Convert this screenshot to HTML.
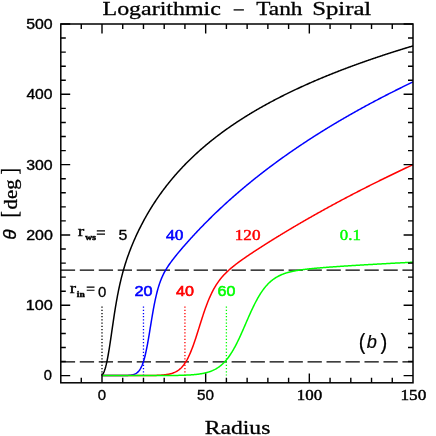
<!DOCTYPE html>
<html><head><meta charset="utf-8"><style>
html,body{margin:0;padding:0;background:#fff;}
body{width:436px;height:436px;overflow:hidden;}
svg{display:block;}
</style></head><body>
<svg width="436" height="436" viewBox="0 0 436 436" style="will-change:transform">
<rect width="436" height="436" fill="#fff"/>
<defs><clipPath id="c"><rect x="60.80" y="24.00" width="352.20" height="358.80"/></clipPath></defs>
<!-- dashed refs -->
<path d="M60.80,270.13H413.00M60.80,361.90H413.00" stroke="#000" stroke-width="1.4" stroke-dasharray="14.3,4.68" fill="none"/>
<!-- dotted verticals -->
<path d="M102.00,306.40V375.62" stroke="#000" stroke-width="1.3" stroke-dasharray="1.25,1.99" fill="none"/>
<path d="M143.47,306.40V375.62" stroke="#00f" stroke-width="1.3" stroke-dasharray="1.25,1.99" fill="none"/>
<path d="M184.93,306.40V375.62" stroke="#f00" stroke-width="1.3" stroke-dasharray="1.25,1.99" fill="none"/>
<path d="M226.40,306.40V375.62" stroke="#0f0" stroke-width="1.3" stroke-dasharray="1.25,1.99" fill="none"/>
<g clip-path="url(#c)">
<path d="M102.00,375.62 L102.52,374.87 L103.04,373.98 L103.56,372.94 L104.07,371.72 L104.59,370.32 L105.11,368.72 L105.63,366.92 L106.15,364.90 L106.67,362.67 L107.18,360.23 L107.70,357.58 L108.22,354.74 L108.74,351.73 L109.26,348.56 L109.78,345.25 L110.29,341.83 L110.81,338.33 L111.33,334.78 L111.85,331.21 L112.37,327.63 L112.89,324.07 L113.40,320.56 L113.92,317.10 L114.44,313.72 L114.96,310.43 L115.48,307.24 L116.00,304.14 L116.51,301.15 L117.03,298.26 L117.55,295.48 L118.07,292.80 L118.59,290.22 L119.11,287.73 L119.62,285.34 L120.14,283.04 L120.66,280.82 L121.18,278.68 L121.70,276.61 L122.22,274.61 L122.73,272.68 L123.25,270.81 L123.77,268.99 L124.29,267.22 L124.81,265.51 L125.33,263.84 L125.84,262.21 L126.36,260.62 L126.88,259.08 L127.40,257.56 L127.92,256.08 L128.44,254.63 L128.95,253.21 L129.47,251.82 L129.99,250.45 L130.51,249.11 L131.03,247.79 L131.54,246.49 L132.06,245.21 L132.58,243.96 L133.10,242.72 L133.62,241.50 L134.14,240.30 L134.66,239.12 L135.17,237.95 L135.69,236.80 L136.21,235.66 L136.73,234.54 L137.25,233.43 L137.76,232.34 L138.28,231.26 L138.80,230.19 L139.32,229.14 L139.84,228.09 L140.36,227.06 L140.88,226.04 L141.39,225.03 L141.91,224.03 L142.43,223.05 L142.95,222.07 L143.47,221.10 L143.99,220.14 L144.50,219.20 L145.02,218.26 L145.54,217.33 L146.06,216.41 L146.58,215.50 L147.09,214.60 L147.61,213.70 L148.13,212.82 L148.65,211.94 L149.17,211.07 L149.69,210.21 L150.20,209.35 L150.72,208.51 L151.24,207.67 L151.76,206.84 L152.28,206.01 L152.80,205.19 L153.31,204.38 L153.83,203.58 L154.35,202.78 L154.87,201.99 L155.39,201.21 L155.91,200.43 L156.43,199.66 L156.94,198.90 L157.46,198.14 L157.98,197.38 L158.50,196.64 L159.02,195.89 L159.53,195.16 L160.05,194.43 L160.57,193.70 L161.09,192.98 L161.61,192.27 L162.13,191.56 L162.64,190.86 L163.16,190.16 L163.68,189.47 L164.20,188.78 L164.72,188.10 L165.24,187.42 L165.75,186.74 L166.27,186.07 L166.79,185.41 L167.31,184.75 L167.83,184.09 L168.35,183.44 L168.87,182.80 L169.38,182.15 L169.90,181.52 L170.42,180.88 L170.94,180.25 L171.46,179.63 L171.97,179.01 L172.49,178.39 L173.01,177.77 L173.53,177.17 L174.05,176.56 L174.57,175.96 L175.08,175.36 L175.60,174.76 L176.12,174.17 L176.64,173.59 L177.16,173.00 L177.68,172.42 L178.19,171.85 L178.71,171.27 L179.23,170.70 L179.75,170.14 L180.27,169.57 L180.79,169.01 L181.31,168.46 L181.82,167.90 L182.34,167.35 L182.86,166.81 L183.38,166.26 L183.90,165.72 L184.41,165.18 L184.93,164.65 L185.45,164.12 L185.97,163.59 L186.49,163.06 L187.01,162.54 L187.52,162.02 L188.04,161.50 L188.56,160.98 L189.08,160.47 L189.60,159.96 L190.12,159.46 L190.63,158.95 L191.15,158.45 L191.67,157.95 L192.19,157.46 L192.71,156.96 L193.23,156.47 L193.75,155.98 L194.26,155.50 L194.78,155.01 L195.30,154.53 L195.82,154.05 L196.34,153.58 L196.85,153.10 L197.37,152.63 L197.89,152.16 L198.41,151.69 L198.93,151.23 L199.45,150.77 L199.96,150.31 L200.48,149.85 L201.00,149.39 L201.52,148.94 L202.04,148.48 L202.56,148.04 L203.07,147.59 L203.59,147.14 L204.11,146.70 L204.63,146.26 L205.15,145.82 L205.67,145.38 L206.19,144.94 L206.70,144.51 L207.22,144.08 L207.74,143.65 L208.26,143.22 L208.78,142.80 L209.30,142.37 L209.81,141.95 L210.33,141.53 L210.85,141.11 L211.37,140.70 L211.89,140.28 L212.41,139.87 L212.92,139.46 L213.44,139.05 L213.96,138.64 L214.48,138.23 L215.00,137.83 L215.51,137.43 L216.03,137.03 L216.55,136.63 L217.07,136.23 L217.59,135.83 L218.11,135.44 L218.62,135.05 L219.14,134.65 L219.66,134.27 L220.18,133.88 L220.70,133.49 L221.22,133.11 L221.74,132.72 L222.25,132.34 L222.77,131.96 L223.29,131.58 L223.81,131.20 L224.33,130.83 L224.84,130.45 L225.36,130.08 L225.88,129.71 L226.40,129.34 L226.92,128.97 L227.44,128.60 L227.95,128.24 L228.47,127.87 L228.99,127.51 L229.51,127.15 L230.03,126.79 L230.55,126.43 L231.06,126.07 L231.58,125.72 L232.10,125.36 L232.62,125.01 L233.14,124.66 L233.66,124.30 L234.17,123.95 L234.69,123.61 L235.21,123.26 L235.73,122.91 L236.25,122.57 L236.77,122.22 L237.28,121.88 L237.80,121.54 L238.32,121.20 L238.84,120.86 L239.36,120.52 L239.88,120.19 L240.39,119.85 L240.91,119.52 L241.43,119.19 L241.95,118.85 L242.47,118.52 L242.99,118.20 L243.50,117.87 L244.02,117.54 L244.54,117.21 L245.06,116.89 L245.58,116.56 L246.10,116.24 L246.61,115.92 L247.13,115.60 L247.65,115.28 L248.17,114.96 L248.69,114.64 L249.21,114.33 L249.72,114.01 L250.24,113.70 L250.76,113.39 L251.28,113.07 L251.80,112.76 L252.32,112.45 L252.84,112.14 L253.35,111.83 L253.87,111.53 L254.39,111.22 L254.91,110.92 L255.43,110.61 L255.94,110.31 L256.46,110.00 L256.98,109.70 L257.50,109.40 L258.02,109.10 L258.54,108.80 L259.06,108.51 L259.57,108.21 L260.09,107.91 L260.61,107.62 L261.13,107.33 L261.65,107.03 L262.16,106.74 L262.68,106.45 L263.20,106.16 L263.72,105.87 L264.24,105.58 L264.76,105.29 L265.27,105.00 L265.79,104.72 L266.31,104.43 L266.83,104.15 L267.35,103.86 L267.87,103.58 L268.38,103.30 L268.90,103.02 L269.42,102.74 L269.94,102.46 L270.46,102.18 L270.98,101.90 L271.50,101.63 L272.01,101.35 L272.53,101.07 L273.05,100.80 L273.57,100.52 L274.09,100.25 L274.61,99.98 L275.12,99.71 L275.64,99.44 L276.16,99.17 L276.68,98.90 L277.20,98.63 L277.72,98.36 L278.23,98.09 L278.75,97.83 L279.27,97.56 L279.79,97.30 L280.31,97.03 L280.82,96.77 L281.34,96.51 L281.86,96.24 L282.38,95.98 L282.90,95.72 L283.42,95.46 L283.94,95.20 L284.45,94.95 L284.97,94.69 L285.49,94.43 L286.01,94.17 L286.53,93.92 L287.04,93.66 L287.56,93.41 L288.08,93.16 L288.60,92.90 L289.12,92.65 L289.64,92.40 L290.15,92.15 L290.67,91.90 L291.19,91.65 L291.71,91.40 L292.23,91.15 L292.75,90.90 L293.26,90.65 L293.78,90.41 L294.30,90.16 L294.82,89.92 L295.34,89.67 L295.86,89.43 L296.38,89.19 L296.89,88.94 L297.41,88.70 L297.93,88.46 L298.45,88.22 L298.97,87.98 L299.49,87.74 L300.00,87.50 L300.52,87.26 L301.04,87.02 L301.56,86.78 L302.08,86.55 L302.60,86.31 L303.11,86.08 L303.63,85.84 L304.15,85.61 L304.67,85.37 L305.19,85.14 L305.70,84.91 L306.22,84.67 L306.74,84.44 L307.26,84.21 L307.78,83.98 L308.30,83.75 L308.81,83.52 L309.33,83.29 L309.85,83.06 L310.37,82.84 L310.89,82.61 L311.41,82.38 L311.92,82.16 L312.44,81.93 L312.96,81.71 L313.48,81.48 L314.00,81.26 L314.52,81.03 L315.03,80.81 L315.55,80.59 L316.07,80.37 L316.59,80.14 L317.11,79.92 L317.63,79.70 L318.14,79.48 L318.66,79.26 L319.18,79.04 L319.70,78.83 L320.22,78.61 L320.74,78.39 L321.25,78.17 L321.77,77.96 L322.29,77.74 L322.81,77.53 L323.33,77.31 L323.85,77.10 L324.37,76.88 L324.88,76.67 L325.40,76.45 L325.92,76.24 L326.44,76.03 L326.96,75.82 L327.48,75.61 L327.99,75.40 L328.51,75.19 L329.03,74.98 L329.55,74.77 L330.07,74.56 L330.58,74.35 L331.10,74.14 L331.62,73.93 L332.14,73.73 L332.66,73.52 L333.18,73.31 L333.69,73.11 L334.21,72.90 L334.73,72.70 L335.25,72.49 L335.77,72.29 L336.29,72.09 L336.80,71.88 L337.32,71.68 L337.84,71.48 L338.36,71.27 L338.88,71.07 L339.40,70.87 L339.91,70.67 L340.43,70.47 L340.95,70.27 L341.47,70.07 L341.99,69.87 L342.51,69.67 L343.02,69.48 L343.54,69.28 L344.06,69.08 L344.58,68.88 L345.10,68.69 L345.62,68.49 L346.13,68.30 L346.65,68.10 L347.17,67.91 L347.69,67.71 L348.21,67.52 L348.73,67.32 L349.25,67.13 L349.76,66.94 L350.28,66.74 L350.80,66.55 L351.32,66.36 L351.84,66.17 L352.36,65.98 L352.87,65.79 L353.39,65.60 L353.91,65.41 L354.43,65.22 L354.95,65.03 L355.47,64.84 L355.98,64.65 L356.50,64.46 L357.02,64.27 L357.54,64.09 L358.06,63.90 L358.57,63.71 L359.09,63.53 L359.61,63.34 L360.13,63.16 L360.65,62.97 L361.17,62.79 L361.69,62.60 L362.20,62.42 L362.72,62.23 L363.24,62.05 L363.76,61.87 L364.28,61.68 L364.80,61.50 L365.31,61.32 L365.83,61.14 L366.35,60.96 L366.87,60.78 L367.39,60.60 L367.90,60.41 L368.42,60.23 L368.94,60.06 L369.46,59.88 L369.98,59.70 L370.50,59.52 L371.01,59.34 L371.53,59.16 L372.05,58.98 L372.57,58.81 L373.09,58.63 L373.61,58.45 L374.12,58.28 L374.64,58.10 L375.16,57.93 L375.68,57.75 L376.20,57.57 L376.72,57.40 L377.24,57.23 L377.75,57.05 L378.27,56.88 L378.79,56.70 L379.31,56.53 L379.83,56.36 L380.34,56.19 L380.86,56.01 L381.38,55.84 L381.90,55.67 L382.42,55.50 L382.94,55.33 L383.45,55.16 L383.97,54.99 L384.49,54.82 L385.01,54.65 L385.53,54.48 L386.05,54.31 L386.56,54.14 L387.08,53.97 L387.60,53.80 L388.12,53.63 L388.64,53.47 L389.16,53.30 L389.68,53.13 L390.19,52.97 L390.71,52.80 L391.23,52.63 L391.75,52.47 L392.27,52.30 L392.78,52.14 L393.30,51.97 L393.82,51.81 L394.34,51.64 L394.86,51.48 L395.38,51.31 L395.89,51.15 L396.41,50.99 L396.93,50.82 L397.45,50.66 L397.97,50.50 L398.49,50.33 L399.00,50.17 L399.52,50.01 L400.04,49.85 L400.56,49.69 L401.08,49.53 L401.60,49.37 L402.12,49.21 L402.63,49.05 L403.15,48.89 L403.67,48.73 L404.19,48.57 L404.71,48.41 L405.22,48.25 L405.74,48.09 L406.26,47.93 L406.78,47.77 L407.30,47.62 L407.82,47.46 L408.33,47.30 L408.85,47.14 L409.37,46.99 L409.89,46.83 L410.41,46.67 L410.93,46.52 L411.44,46.36 L411.96,46.21 L412.48,46.05 L413.00,45.90" fill="none" stroke="#000000" stroke-width="1.5" stroke-linejoin="round"/>
<path d="M102.00,375.62 L102.52,375.62 L103.04,375.62 L103.56,375.62 L104.07,375.62 L104.59,375.62 L105.11,375.62 L105.63,375.62 L106.15,375.62 L106.67,375.62 L107.18,375.62 L107.70,375.62 L108.22,375.62 L108.74,375.62 L109.26,375.62 L109.78,375.62 L110.29,375.62 L110.81,375.62 L111.33,375.62 L111.85,375.62 L112.37,375.62 L112.89,375.62 L113.40,375.62 L113.92,375.62 L114.44,375.62 L114.96,375.62 L115.48,375.61 L116.00,375.61 L116.51,375.61 L117.03,375.61 L117.55,375.61 L118.07,375.61 L118.59,375.60 L119.11,375.60 L119.62,375.60 L120.14,375.60 L120.66,375.59 L121.18,375.59 L121.70,375.58 L122.22,375.57 L122.73,375.57 L123.25,375.56 L123.77,375.55 L124.29,375.54 L124.81,375.52 L125.33,375.51 L125.84,375.49 L126.36,375.47 L126.88,375.44 L127.40,375.42 L127.92,375.38 L128.44,375.35 L128.95,375.30 L129.47,375.26 L129.99,375.20 L130.51,375.13 L131.03,375.06 L131.54,374.97 L132.06,374.87 L132.58,374.76 L133.10,374.62 L133.62,374.47 L134.14,374.30 L134.66,374.10 L135.17,373.87 L135.69,373.61 L136.21,373.31 L136.73,372.97 L137.25,372.59 L137.76,372.15 L138.28,371.65 L138.80,371.08 L139.32,370.44 L139.84,369.71 L140.36,368.90 L140.88,367.98 L141.39,366.95 L141.91,365.81 L142.43,364.53 L142.95,363.12 L143.47,361.56 L143.99,359.86 L144.50,357.99 L145.02,355.97 L145.54,353.78 L146.06,351.44 L146.58,348.94 L147.09,346.29 L147.61,343.52 L148.13,340.62 L148.65,337.63 L149.17,334.55 L149.69,331.41 L150.20,328.24 L150.72,325.06 L151.24,321.89 L151.76,318.75 L152.28,315.67 L152.80,312.66 L153.31,309.74 L153.83,306.92 L154.35,304.22 L154.87,301.63 L155.39,299.16 L155.91,296.81 L156.43,294.59 L156.94,292.49 L157.46,290.51 L157.98,288.64 L158.50,286.87 L159.02,285.21 L159.53,283.64 L160.05,282.15 L160.57,280.75 L161.09,279.42 L161.61,278.16 L162.13,276.97 L162.64,275.83 L163.16,274.74 L163.68,273.69 L164.20,272.69 L164.72,271.73 L165.24,270.80 L165.75,269.91 L166.27,269.04 L166.79,268.20 L167.31,267.37 L167.83,266.57 L168.35,265.79 L168.87,265.03 L169.38,264.28 L169.90,263.54 L170.42,262.82 L170.94,262.10 L171.46,261.40 L171.97,260.71 L172.49,260.02 L173.01,259.34 L173.53,258.67 L174.05,258.01 L174.57,257.35 L175.08,256.70 L175.60,256.05 L176.12,255.41 L176.64,254.77 L177.16,254.13 L177.68,253.50 L178.19,252.87 L178.71,252.25 L179.23,251.63 L179.75,251.01 L180.27,250.40 L180.79,249.79 L181.31,249.18 L181.82,248.57 L182.34,247.97 L182.86,247.36 L183.38,246.77 L183.90,246.17 L184.41,245.57 L184.93,244.98 L185.45,244.39 L185.97,243.80 L186.49,243.22 L187.01,242.63 L187.52,242.05 L188.04,241.47 L188.56,240.89 L189.08,240.32 L189.60,239.74 L190.12,239.17 L190.63,238.60 L191.15,238.03 L191.67,237.46 L192.19,236.90 L192.71,236.33 L193.23,235.77 L193.75,235.21 L194.26,234.65 L194.78,234.09 L195.30,233.54 L195.82,232.98 L196.34,232.43 L196.85,231.88 L197.37,231.33 L197.89,230.79 L198.41,230.24 L198.93,229.70 L199.45,229.15 L199.96,228.61 L200.48,228.07 L201.00,227.53 L201.52,227.00 L202.04,226.46 L202.56,225.93 L203.07,225.40 L203.59,224.87 L204.11,224.34 L204.63,223.81 L205.15,223.29 L205.67,222.76 L206.19,222.24 L206.70,221.72 L207.22,221.20 L207.74,220.68 L208.26,220.16 L208.78,219.65 L209.30,219.13 L209.81,218.62 L210.33,218.11 L210.85,217.60 L211.37,217.09 L211.89,216.58 L212.41,216.08 L212.92,215.57 L213.44,215.07 L213.96,214.57 L214.48,214.06 L215.00,213.57 L215.51,213.07 L216.03,212.57 L216.55,212.08 L217.07,211.58 L217.59,211.09 L218.11,210.60 L218.62,210.11 L219.14,209.62 L219.66,209.13 L220.18,208.64 L220.70,208.16 L221.22,207.67 L221.74,207.19 L222.25,206.71 L222.77,206.23 L223.29,205.75 L223.81,205.27 L224.33,204.80 L224.84,204.32 L225.36,203.85 L225.88,203.37 L226.40,202.90 L226.92,202.43 L227.44,201.96 L227.95,201.49 L228.47,201.03 L228.99,200.56 L229.51,200.10 L230.03,199.63 L230.55,199.17 L231.06,198.71 L231.58,198.25 L232.10,197.79 L232.62,197.33 L233.14,196.87 L233.66,196.42 L234.17,195.96 L234.69,195.51 L235.21,195.06 L235.73,194.60 L236.25,194.15 L236.77,193.70 L237.28,193.26 L237.80,192.81 L238.32,192.36 L238.84,191.92 L239.36,191.47 L239.88,191.03 L240.39,190.59 L240.91,190.15 L241.43,189.71 L241.95,189.27 L242.47,188.83 L242.99,188.39 L243.50,187.96 L244.02,187.52 L244.54,187.09 L245.06,186.66 L245.58,186.23 L246.10,185.79 L246.61,185.36 L247.13,184.94 L247.65,184.51 L248.17,184.08 L248.69,183.66 L249.21,183.23 L249.72,182.81 L250.24,182.38 L250.76,181.96 L251.28,181.54 L251.80,181.12 L252.32,180.70 L252.84,180.28 L253.35,179.86 L253.87,179.45 L254.39,179.03 L254.91,178.62 L255.43,178.20 L255.94,177.79 L256.46,177.38 L256.98,176.97 L257.50,176.56 L258.02,176.15 L258.54,175.74 L259.06,175.33 L259.57,174.93 L260.09,174.52 L260.61,174.11 L261.13,173.71 L261.65,173.31 L262.16,172.90 L262.68,172.50 L263.20,172.10 L263.72,171.70 L264.24,171.30 L264.76,170.91 L265.27,170.51 L265.79,170.11 L266.31,169.72 L266.83,169.32 L267.35,168.93 L267.87,168.53 L268.38,168.14 L268.90,167.75 L269.42,167.36 L269.94,166.97 L270.46,166.58 L270.98,166.19 L271.50,165.81 L272.01,165.42 L272.53,165.03 L273.05,164.65 L273.57,164.26 L274.09,163.88 L274.61,163.50 L275.12,163.12 L275.64,162.73 L276.16,162.35 L276.68,161.97 L277.20,161.60 L277.72,161.22 L278.23,160.84 L278.75,160.46 L279.27,160.09 L279.79,159.71 L280.31,159.34 L280.82,158.96 L281.34,158.59 L281.86,158.22 L282.38,157.85 L282.90,157.48 L283.42,157.11 L283.94,156.74 L284.45,156.37 L284.97,156.00 L285.49,155.63 L286.01,155.27 L286.53,154.90 L287.04,154.54 L287.56,154.17 L288.08,153.81 L288.60,153.45 L289.12,153.08 L289.64,152.72 L290.15,152.36 L290.67,152.00 L291.19,151.64 L291.71,151.28 L292.23,150.93 L292.75,150.57 L293.26,150.21 L293.78,149.86 L294.30,149.50 L294.82,149.15 L295.34,148.79 L295.86,148.44 L296.38,148.09 L296.89,147.73 L297.41,147.38 L297.93,147.03 L298.45,146.68 L298.97,146.33 L299.49,145.98 L300.00,145.64 L300.52,145.29 L301.04,144.94 L301.56,144.60 L302.08,144.25 L302.60,143.91 L303.11,143.56 L303.63,143.22 L304.15,142.87 L304.67,142.53 L305.19,142.19 L305.70,141.85 L306.22,141.51 L306.74,141.17 L307.26,140.83 L307.78,140.49 L308.30,140.15 L308.81,139.81 L309.33,139.48 L309.85,139.14 L310.37,138.81 L310.89,138.47 L311.41,138.14 L311.92,137.80 L312.44,137.47 L312.96,137.14 L313.48,136.80 L314.00,136.47 L314.52,136.14 L315.03,135.81 L315.55,135.48 L316.07,135.15 L316.59,134.82 L317.11,134.50 L317.63,134.17 L318.14,133.84 L318.66,133.51 L319.18,133.19 L319.70,132.86 L320.22,132.54 L320.74,132.21 L321.25,131.89 L321.77,131.57 L322.29,131.25 L322.81,130.92 L323.33,130.60 L323.85,130.28 L324.37,129.96 L324.88,129.64 L325.40,129.32 L325.92,129.00 L326.44,128.68 L326.96,128.37 L327.48,128.05 L327.99,127.73 L328.51,127.42 L329.03,127.10 L329.55,126.79 L330.07,126.47 L330.58,126.16 L331.10,125.85 L331.62,125.53 L332.14,125.22 L332.66,124.91 L333.18,124.60 L333.69,124.29 L334.21,123.98 L334.73,123.67 L335.25,123.36 L335.77,123.05 L336.29,122.74 L336.80,122.43 L337.32,122.13 L337.84,121.82 L338.36,121.51 L338.88,121.21 L339.40,120.90 L339.91,120.60 L340.43,120.29 L340.95,119.99 L341.47,119.68 L341.99,119.38 L342.51,119.08 L343.02,118.78 L343.54,118.48 L344.06,118.18 L344.58,117.88 L345.10,117.58 L345.62,117.28 L346.13,116.98 L346.65,116.68 L347.17,116.38 L347.69,116.08 L348.21,115.79 L348.73,115.49 L349.25,115.19 L349.76,114.90 L350.28,114.60 L350.80,114.31 L351.32,114.01 L351.84,113.72 L352.36,113.43 L352.87,113.13 L353.39,112.84 L353.91,112.55 L354.43,112.26 L354.95,111.97 L355.47,111.68 L355.98,111.38 L356.50,111.10 L357.02,110.81 L357.54,110.52 L358.06,110.23 L358.57,109.94 L359.09,109.65 L359.61,109.37 L360.13,109.08 L360.65,108.79 L361.17,108.51 L361.69,108.22 L362.20,107.94 L362.72,107.65 L363.24,107.37 L363.76,107.08 L364.28,106.80 L364.80,106.52 L365.31,106.24 L365.83,105.95 L366.35,105.67 L366.87,105.39 L367.39,105.11 L367.90,104.83 L368.42,104.55 L368.94,104.27 L369.46,103.99 L369.98,103.71 L370.50,103.44 L371.01,103.16 L371.53,102.88 L372.05,102.60 L372.57,102.33 L373.09,102.05 L373.61,101.77 L374.12,101.50 L374.64,101.22 L375.16,100.95 L375.68,100.68 L376.20,100.40 L376.72,100.13 L377.24,99.86 L377.75,99.58 L378.27,99.31 L378.79,99.04 L379.31,98.77 L379.83,98.50 L380.34,98.23 L380.86,97.96 L381.38,97.69 L381.90,97.42 L382.42,97.15 L382.94,96.88 L383.45,96.61 L383.97,96.34 L384.49,96.07 L385.01,95.81 L385.53,95.54 L386.05,95.27 L386.56,95.01 L387.08,94.74 L387.60,94.48 L388.12,94.21 L388.64,93.95 L389.16,93.68 L389.68,93.42 L390.19,93.16 L390.71,92.89 L391.23,92.63 L391.75,92.37 L392.27,92.11 L392.78,91.84 L393.30,91.58 L393.82,91.32 L394.34,91.06 L394.86,90.80 L395.38,90.54 L395.89,90.28 L396.41,90.02 L396.93,89.76 L397.45,89.51 L397.97,89.25 L398.49,88.99 L399.00,88.73 L399.52,88.48 L400.04,88.22 L400.56,87.96 L401.08,87.71 L401.60,87.45 L402.12,87.20 L402.63,86.94 L403.15,86.69 L403.67,86.43 L404.19,86.18 L404.71,85.92 L405.22,85.67 L405.74,85.42 L406.26,85.17 L406.78,84.91 L407.30,84.66 L407.82,84.41 L408.33,84.16 L408.85,83.91 L409.37,83.66 L409.89,83.41 L410.41,83.16 L410.93,82.91 L411.44,82.66 L411.96,82.41 L412.48,82.16 L413.00,81.91" fill="none" stroke="#0000ff" stroke-width="1.5" stroke-linejoin="round"/>
<path d="M102.00,375.62 L102.52,375.62 L103.04,375.62 L103.56,375.62 L104.07,375.62 L104.59,375.62 L105.11,375.62 L105.63,375.62 L106.15,375.62 L106.67,375.62 L107.18,375.62 L107.70,375.62 L108.22,375.62 L108.74,375.62 L109.26,375.62 L109.78,375.62 L110.29,375.62 L110.81,375.62 L111.33,375.62 L111.85,375.62 L112.37,375.62 L112.89,375.62 L113.40,375.62 L113.92,375.62 L114.44,375.62 L114.96,375.62 L115.48,375.62 L116.00,375.62 L116.51,375.62 L117.03,375.62 L117.55,375.62 L118.07,375.62 L118.59,375.62 L119.11,375.62 L119.62,375.62 L120.14,375.62 L120.66,375.62 L121.18,375.62 L121.70,375.62 L122.22,375.62 L122.73,375.62 L123.25,375.62 L123.77,375.62 L124.29,375.62 L124.81,375.62 L125.33,375.62 L125.84,375.62 L126.36,375.62 L126.88,375.62 L127.40,375.62 L127.92,375.62 L128.44,375.62 L128.95,375.62 L129.47,375.62 L129.99,375.62 L130.51,375.62 L131.03,375.62 L131.54,375.61 L132.06,375.61 L132.58,375.61 L133.10,375.61 L133.62,375.61 L134.14,375.61 L134.66,375.61 L135.17,375.61 L135.69,375.61 L136.21,375.61 L136.73,375.61 L137.25,375.61 L137.76,375.61 L138.28,375.60 L138.80,375.60 L139.32,375.60 L139.84,375.60 L140.36,375.60 L140.88,375.60 L141.39,375.59 L141.91,375.59 L142.43,375.59 L142.95,375.59 L143.47,375.59 L143.99,375.58 L144.50,375.58 L145.02,375.58 L145.54,375.57 L146.06,375.57 L146.58,375.56 L147.09,375.56 L147.61,375.55 L148.13,375.55 L148.65,375.54 L149.17,375.54 L149.69,375.53 L150.20,375.52 L150.72,375.52 L151.24,375.51 L151.76,375.50 L152.28,375.49 L152.80,375.48 L153.31,375.47 L153.83,375.45 L154.35,375.44 L154.87,375.43 L155.39,375.41 L155.91,375.39 L156.43,375.38 L156.94,375.36 L157.46,375.34 L157.98,375.31 L158.50,375.29 L159.02,375.26 L159.53,375.24 L160.05,375.21 L160.57,375.17 L161.09,375.14 L161.61,375.10 L162.13,375.06 L162.64,375.02 L163.16,374.97 L163.68,374.92 L164.20,374.86 L164.72,374.81 L165.24,374.74 L165.75,374.68 L166.27,374.60 L166.79,374.53 L167.31,374.44 L167.83,374.35 L168.35,374.26 L168.87,374.15 L169.38,374.04 L169.90,373.92 L170.42,373.79 L170.94,373.66 L171.46,373.51 L171.97,373.35 L172.49,373.18 L173.01,373.00 L173.53,372.80 L174.05,372.60 L174.57,372.37 L175.08,372.14 L175.60,371.88 L176.12,371.61 L176.64,371.32 L177.16,371.01 L177.68,370.68 L178.19,370.33 L178.71,369.95 L179.23,369.55 L179.75,369.13 L180.27,368.68 L180.79,368.20 L181.31,367.69 L181.82,367.15 L182.34,366.57 L182.86,365.97 L183.38,365.33 L183.90,364.65 L184.41,363.94 L184.93,363.19 L185.45,362.40 L185.97,361.56 L186.49,360.69 L187.01,359.78 L187.52,358.82 L188.04,357.82 L188.56,356.77 L189.08,355.68 L189.60,354.55 L190.12,353.37 L190.63,352.16 L191.15,350.89 L191.67,349.59 L192.19,348.25 L192.71,346.87 L193.23,345.45 L193.75,344.00 L194.26,342.52 L194.78,341.00 L195.30,339.46 L195.82,337.89 L196.34,336.30 L196.85,334.69 L197.37,333.07 L197.89,331.43 L198.41,329.79 L198.93,328.14 L199.45,326.49 L199.96,324.84 L200.48,323.19 L201.00,321.55 L201.52,319.92 L202.04,318.31 L202.56,316.71 L203.07,315.13 L203.59,313.57 L204.11,312.04 L204.63,310.53 L205.15,309.05 L205.67,307.60 L206.19,306.17 L206.70,304.78 L207.22,303.42 L207.74,302.09 L208.26,300.79 L208.78,299.53 L209.30,298.30 L209.81,297.11 L210.33,295.95 L210.85,294.82 L211.37,293.72 L211.89,292.65 L212.41,291.62 L212.92,290.61 L213.44,289.64 L213.96,288.70 L214.48,287.78 L215.00,286.89 L215.51,286.03 L216.03,285.19 L216.55,284.37 L217.07,283.58 L217.59,282.82 L218.11,282.07 L218.62,281.35 L219.14,280.64 L219.66,279.95 L220.18,279.29 L220.70,278.64 L221.22,278.00 L221.74,277.38 L222.25,276.78 L222.77,276.19 L223.29,275.61 L223.81,275.05 L224.33,274.50 L224.84,273.96 L225.36,273.43 L225.88,272.91 L226.40,272.40 L226.92,271.90 L227.44,271.41 L227.95,270.93 L228.47,270.45 L228.99,269.99 L229.51,269.53 L230.03,269.07 L230.55,268.62 L231.06,268.18 L231.58,267.75 L232.10,267.32 L232.62,266.89 L233.14,266.47 L233.66,266.05 L234.17,265.64 L234.69,265.23 L235.21,264.83 L235.73,264.43 L236.25,264.03 L236.77,263.64 L237.28,263.25 L237.80,262.86 L238.32,262.47 L238.84,262.09 L239.36,261.71 L239.88,261.33 L240.39,260.96 L240.91,260.59 L241.43,260.21 L241.95,259.85 L242.47,259.48 L242.99,259.11 L243.50,258.75 L244.02,258.39 L244.54,258.03 L245.06,257.67 L245.58,257.31 L246.10,256.95 L246.61,256.60 L247.13,256.24 L247.65,255.89 L248.17,255.54 L248.69,255.19 L249.21,254.84 L249.72,254.49 L250.24,254.14 L250.76,253.79 L251.28,253.45 L251.80,253.10 L252.32,252.76 L252.84,252.41 L253.35,252.07 L253.87,251.73 L254.39,251.39 L254.91,251.05 L255.43,250.71 L255.94,250.37 L256.46,250.03 L256.98,249.69 L257.50,249.36 L258.02,249.02 L258.54,248.69 L259.06,248.35 L259.57,248.02 L260.09,247.68 L260.61,247.35 L261.13,247.02 L261.65,246.68 L262.16,246.35 L262.68,246.02 L263.20,245.69 L263.72,245.36 L264.24,245.03 L264.76,244.70 L265.27,244.37 L265.79,244.04 L266.31,243.72 L266.83,243.39 L267.35,243.06 L267.87,242.74 L268.38,242.41 L268.90,242.08 L269.42,241.76 L269.94,241.44 L270.46,241.11 L270.98,240.79 L271.50,240.46 L272.01,240.14 L272.53,239.82 L273.05,239.50 L273.57,239.18 L274.09,238.86 L274.61,238.54 L275.12,238.22 L275.64,237.90 L276.16,237.58 L276.68,237.26 L277.20,236.94 L277.72,236.62 L278.23,236.30 L278.75,235.99 L279.27,235.67 L279.79,235.35 L280.31,235.04 L280.82,234.72 L281.34,234.40 L281.86,234.09 L282.38,233.78 L282.90,233.46 L283.42,233.15 L283.94,232.83 L284.45,232.52 L284.97,232.21 L285.49,231.90 L286.01,231.58 L286.53,231.27 L287.04,230.96 L287.56,230.65 L288.08,230.34 L288.60,230.03 L289.12,229.72 L289.64,229.41 L290.15,229.10 L290.67,228.79 L291.19,228.49 L291.71,228.18 L292.23,227.87 L292.75,227.56 L293.26,227.26 L293.78,226.95 L294.30,226.65 L294.82,226.34 L295.34,226.04 L295.86,225.73 L296.38,225.43 L296.89,225.12 L297.41,224.82 L297.93,224.51 L298.45,224.21 L298.97,223.91 L299.49,223.61 L300.00,223.30 L300.52,223.00 L301.04,222.70 L301.56,222.40 L302.08,222.10 L302.60,221.80 L303.11,221.50 L303.63,221.20 L304.15,220.90 L304.67,220.60 L305.19,220.30 L305.70,220.01 L306.22,219.71 L306.74,219.41 L307.26,219.11 L307.78,218.82 L308.30,218.52 L308.81,218.22 L309.33,217.93 L309.85,217.63 L310.37,217.34 L310.89,217.04 L311.41,216.75 L311.92,216.45 L312.44,216.16 L312.96,215.87 L313.48,215.57 L314.00,215.28 L314.52,214.99 L315.03,214.70 L315.55,214.40 L316.07,214.11 L316.59,213.82 L317.11,213.53 L317.63,213.24 L318.14,212.95 L318.66,212.66 L319.18,212.37 L319.70,212.08 L320.22,211.79 L320.74,211.50 L321.25,211.22 L321.77,210.93 L322.29,210.64 L322.81,210.35 L323.33,210.07 L323.85,209.78 L324.37,209.49 L324.88,209.21 L325.40,208.92 L325.92,208.63 L326.44,208.35 L326.96,208.07 L327.48,207.78 L327.99,207.50 L328.51,207.21 L329.03,206.93 L329.55,206.65 L330.07,206.36 L330.58,206.08 L331.10,205.80 L331.62,205.52 L332.14,205.23 L332.66,204.95 L333.18,204.67 L333.69,204.39 L334.21,204.11 L334.73,203.83 L335.25,203.55 L335.77,203.27 L336.29,202.99 L336.80,202.71 L337.32,202.43 L337.84,202.16 L338.36,201.88 L338.88,201.60 L339.40,201.32 L339.91,201.04 L340.43,200.77 L340.95,200.49 L341.47,200.21 L341.99,199.94 L342.51,199.66 L343.02,199.39 L343.54,199.11 L344.06,198.84 L344.58,198.56 L345.10,198.29 L345.62,198.01 L346.13,197.74 L346.65,197.47 L347.17,197.19 L347.69,196.92 L348.21,196.65 L348.73,196.38 L349.25,196.10 L349.76,195.83 L350.28,195.56 L350.80,195.29 L351.32,195.02 L351.84,194.75 L352.36,194.48 L352.87,194.21 L353.39,193.94 L353.91,193.67 L354.43,193.40 L354.95,193.13 L355.47,192.86 L355.98,192.59 L356.50,192.33 L357.02,192.06 L357.54,191.79 L358.06,191.52 L358.57,191.26 L359.09,190.99 L359.61,190.72 L360.13,190.46 L360.65,190.19 L361.17,189.93 L361.69,189.66 L362.20,189.40 L362.72,189.13 L363.24,188.87 L363.76,188.60 L364.28,188.34 L364.80,188.07 L365.31,187.81 L365.83,187.55 L366.35,187.28 L366.87,187.02 L367.39,186.76 L367.90,186.50 L368.42,186.24 L368.94,185.97 L369.46,185.71 L369.98,185.45 L370.50,185.19 L371.01,184.93 L371.53,184.67 L372.05,184.41 L372.57,184.15 L373.09,183.89 L373.61,183.63 L374.12,183.37 L374.64,183.11 L375.16,182.86 L375.68,182.60 L376.20,182.34 L376.72,182.08 L377.24,181.82 L377.75,181.57 L378.27,181.31 L378.79,181.05 L379.31,180.80 L379.83,180.54 L380.34,180.28 L380.86,180.03 L381.38,179.77 L381.90,179.52 L382.42,179.26 L382.94,179.01 L383.45,178.75 L383.97,178.50 L384.49,178.25 L385.01,177.99 L385.53,177.74 L386.05,177.49 L386.56,177.23 L387.08,176.98 L387.60,176.73 L388.12,176.48 L388.64,176.22 L389.16,175.97 L389.68,175.72 L390.19,175.47 L390.71,175.22 L391.23,174.97 L391.75,174.72 L392.27,174.47 L392.78,174.22 L393.30,173.97 L393.82,173.72 L394.34,173.47 L394.86,173.22 L395.38,172.97 L395.89,172.72 L396.41,172.47 L396.93,172.22 L397.45,171.98 L397.97,171.73 L398.49,171.48 L399.00,171.23 L399.52,170.99 L400.04,170.74 L400.56,170.49 L401.08,170.25 L401.60,170.00 L402.12,169.76 L402.63,169.51 L403.15,169.27 L403.67,169.02 L404.19,168.78 L404.71,168.53 L405.22,168.29 L405.74,168.04 L406.26,167.80 L406.78,167.55 L407.30,167.31 L407.82,167.07 L408.33,166.83 L408.85,166.58 L409.37,166.34 L409.89,166.10 L410.41,165.86 L410.93,165.61 L411.44,165.37 L411.96,165.13 L412.48,164.89 L413.00,164.65" fill="none" stroke="#ff0000" stroke-width="1.5" stroke-linejoin="round"/>
<path d="M102.00,375.62 L102.52,375.62 L103.04,375.62 L103.56,375.62 L104.07,375.62 L104.59,375.62 L105.11,375.62 L105.63,375.62 L106.15,375.62 L106.67,375.62 L107.18,375.62 L107.70,375.62 L108.22,375.62 L108.74,375.62 L109.26,375.62 L109.78,375.62 L110.29,375.62 L110.81,375.62 L111.33,375.62 L111.85,375.62 L112.37,375.62 L112.89,375.62 L113.40,375.62 L113.92,375.62 L114.44,375.62 L114.96,375.62 L115.48,375.62 L116.00,375.62 L116.51,375.62 L117.03,375.62 L117.55,375.62 L118.07,375.62 L118.59,375.62 L119.11,375.62 L119.62,375.62 L120.14,375.62 L120.66,375.62 L121.18,375.62 L121.70,375.62 L122.22,375.62 L122.73,375.62 L123.25,375.62 L123.77,375.62 L124.29,375.62 L124.81,375.62 L125.33,375.62 L125.84,375.62 L126.36,375.62 L126.88,375.62 L127.40,375.62 L127.92,375.62 L128.44,375.62 L128.95,375.62 L129.47,375.62 L129.99,375.62 L130.51,375.62 L131.03,375.62 L131.54,375.62 L132.06,375.62 L132.58,375.62 L133.10,375.62 L133.62,375.62 L134.14,375.62 L134.66,375.62 L135.17,375.62 L135.69,375.62 L136.21,375.62 L136.73,375.61 L137.25,375.61 L137.76,375.61 L138.28,375.61 L138.80,375.61 L139.32,375.61 L139.84,375.61 L140.36,375.61 L140.88,375.61 L141.39,375.61 L141.91,375.61 L142.43,375.61 L142.95,375.61 L143.47,375.61 L143.99,375.61 L144.50,375.61 L145.02,375.61 L145.54,375.61 L146.06,375.61 L146.58,375.61 L147.09,375.61 L147.61,375.61 L148.13,375.61 L148.65,375.60 L149.17,375.60 L149.69,375.60 L150.20,375.60 L150.72,375.60 L151.24,375.60 L151.76,375.60 L152.28,375.60 L152.80,375.60 L153.31,375.60 L153.83,375.59 L154.35,375.59 L154.87,375.59 L155.39,375.59 L155.91,375.59 L156.43,375.59 L156.94,375.59 L157.46,375.58 L157.98,375.58 L158.50,375.58 L159.02,375.58 L159.53,375.58 L160.05,375.57 L160.57,375.57 L161.09,375.57 L161.61,375.57 L162.13,375.57 L162.64,375.56 L163.16,375.56 L163.68,375.56 L164.20,375.55 L164.72,375.55 L165.24,375.55 L165.75,375.54 L166.27,375.54 L166.79,375.54 L167.31,375.53 L167.83,375.53 L168.35,375.52 L168.87,375.52 L169.38,375.51 L169.90,375.51 L170.42,375.50 L170.94,375.50 L171.46,375.49 L171.97,375.49 L172.49,375.48 L173.01,375.47 L173.53,375.47 L174.05,375.46 L174.57,375.45 L175.08,375.44 L175.60,375.43 L176.12,375.42 L176.64,375.41 L177.16,375.40 L177.68,375.39 L178.19,375.38 L178.71,375.37 L179.23,375.36 L179.75,375.35 L180.27,375.33 L180.79,375.32 L181.31,375.31 L181.82,375.29 L182.34,375.28 L182.86,375.26 L183.38,375.24 L183.90,375.22 L184.41,375.20 L184.93,375.18 L185.45,375.16 L185.97,375.14 L186.49,375.12 L187.01,375.09 L187.52,375.07 L188.04,375.04 L188.56,375.01 L189.08,374.99 L189.60,374.96 L190.12,374.92 L190.63,374.89 L191.15,374.86 L191.67,374.82 L192.19,374.78 L192.71,374.74 L193.23,374.70 L193.75,374.65 L194.26,374.61 L194.78,374.56 L195.30,374.51 L195.82,374.46 L196.34,374.40 L196.85,374.34 L197.37,374.28 L197.89,374.22 L198.41,374.15 L198.93,374.08 L199.45,374.01 L199.96,373.94 L200.48,373.86 L201.00,373.77 L201.52,373.69 L202.04,373.59 L202.56,373.50 L203.07,373.40 L203.59,373.30 L204.11,373.19 L204.63,373.07 L205.15,372.95 L205.67,372.83 L206.19,372.70 L206.70,372.56 L207.22,372.42 L207.74,372.27 L208.26,372.12 L208.78,371.96 L209.30,371.79 L209.81,371.61 L210.33,371.43 L210.85,371.24 L211.37,371.03 L211.89,370.83 L212.41,370.61 L212.92,370.38 L213.44,370.14 L213.96,369.89 L214.48,369.64 L215.00,369.37 L215.51,369.09 L216.03,368.80 L216.55,368.49 L217.07,368.18 L217.59,367.85 L218.11,367.50 L218.62,367.15 L219.14,366.78 L219.66,366.39 L220.18,366.00 L220.70,365.58 L221.22,365.15 L221.74,364.70 L222.25,364.24 L222.77,363.76 L223.29,363.26 L223.81,362.75 L224.33,362.21 L224.84,361.66 L225.36,361.09 L225.88,360.50 L226.40,359.89 L226.92,359.25 L227.44,358.60 L227.95,357.93 L228.47,357.24 L228.99,356.53 L229.51,355.79 L230.03,355.04 L230.55,354.26 L231.06,353.46 L231.58,352.64 L232.10,351.80 L232.62,350.94 L233.14,350.06 L233.66,349.16 L234.17,348.23 L234.69,347.29 L235.21,346.32 L235.73,345.34 L236.25,344.34 L236.77,343.32 L237.28,342.28 L237.80,341.23 L238.32,340.15 L238.84,339.07 L239.36,337.96 L239.88,336.85 L240.39,335.72 L240.91,334.58 L241.43,333.43 L241.95,332.27 L242.47,331.10 L242.99,329.92 L243.50,328.74 L244.02,327.55 L244.54,326.35 L245.06,325.16 L245.58,323.96 L246.10,322.77 L246.61,321.57 L247.13,320.38 L247.65,319.19 L248.17,318.00 L248.69,316.82 L249.21,315.65 L249.72,314.48 L250.24,313.33 L250.76,312.18 L251.28,311.05 L251.80,309.93 L252.32,308.82 L252.84,307.73 L253.35,306.65 L253.87,305.59 L254.39,304.54 L254.91,303.51 L255.43,302.50 L255.94,301.51 L256.46,300.53 L256.98,299.58 L257.50,298.64 L258.02,297.72 L258.54,296.83 L259.06,295.95 L259.57,295.09 L260.09,294.26 L260.61,293.44 L261.13,292.65 L261.65,291.87 L262.16,291.12 L262.68,290.38 L263.20,289.67 L263.72,288.97 L264.24,288.30 L264.76,287.64 L265.27,287.01 L265.79,286.39 L266.31,285.79 L266.83,285.21 L267.35,284.65 L267.87,284.10 L268.38,283.57 L268.90,283.06 L269.42,282.57 L269.94,282.09 L270.46,281.62 L270.98,281.17 L271.50,280.74 L272.01,280.32 L272.53,279.91 L273.05,279.52 L273.57,279.14 L274.09,278.78 L274.61,278.42 L275.12,278.08 L275.64,277.75 L276.16,277.43 L276.68,277.12 L277.20,276.83 L277.72,276.54 L278.23,276.26 L278.75,275.99 L279.27,275.73 L279.79,275.48 L280.31,275.24 L280.82,275.01 L281.34,274.78 L281.86,274.57 L282.38,274.35 L282.90,274.15 L283.42,273.95 L283.94,273.76 L284.45,273.58 L284.97,273.40 L285.49,273.23 L286.01,273.06 L286.53,272.90 L287.04,272.74 L287.56,272.59 L288.08,272.44 L288.60,272.30 L289.12,272.16 L289.64,272.03 L290.15,271.90 L290.67,271.77 L291.19,271.65 L291.71,271.53 L292.23,271.42 L292.75,271.31 L293.26,271.20 L293.78,271.09 L294.30,270.99 L294.82,270.89 L295.34,270.79 L295.86,270.70 L296.38,270.61 L296.89,270.52 L297.41,270.43 L297.93,270.34 L298.45,270.26 L298.97,270.18 L299.49,270.10 L300.00,270.02 L300.52,269.94 L301.04,269.87 L301.56,269.80 L302.08,269.72 L302.60,269.65 L303.11,269.59 L303.63,269.52 L304.15,269.45 L304.67,269.39 L305.19,269.33 L305.70,269.26 L306.22,269.20 L306.74,269.14 L307.26,269.08 L307.78,269.02 L308.30,268.97 L308.81,268.91 L309.33,268.86 L309.85,268.80 L310.37,268.75 L310.89,268.70 L311.41,268.64 L311.92,268.59 L312.44,268.54 L312.96,268.49 L313.48,268.44 L314.00,268.39 L314.52,268.34 L315.03,268.30 L315.55,268.25 L316.07,268.20 L316.59,268.16 L317.11,268.11 L317.63,268.07 L318.14,268.02 L318.66,267.98 L319.18,267.93 L319.70,267.89 L320.22,267.85 L320.74,267.80 L321.25,267.76 L321.77,267.72 L322.29,267.68 L322.81,267.63 L323.33,267.59 L323.85,267.55 L324.37,267.51 L324.88,267.47 L325.40,267.43 L325.92,267.39 L326.44,267.35 L326.96,267.31 L327.48,267.27 L327.99,267.24 L328.51,267.20 L329.03,267.16 L329.55,267.12 L330.07,267.08 L330.58,267.05 L331.10,267.01 L331.62,266.97 L332.14,266.93 L332.66,266.90 L333.18,266.86 L333.69,266.82 L334.21,266.79 L334.73,266.75 L335.25,266.71 L335.77,266.68 L336.29,266.64 L336.80,266.61 L337.32,266.57 L337.84,266.54 L338.36,266.50 L338.88,266.46 L339.40,266.43 L339.91,266.39 L340.43,266.36 L340.95,266.33 L341.47,266.29 L341.99,266.26 L342.51,266.22 L343.02,266.19 L343.54,266.15 L344.06,266.12 L344.58,266.09 L345.10,266.05 L345.62,266.02 L346.13,265.98 L346.65,265.95 L347.17,265.92 L347.69,265.88 L348.21,265.85 L348.73,265.82 L349.25,265.79 L349.76,265.75 L350.28,265.72 L350.80,265.69 L351.32,265.65 L351.84,265.62 L352.36,265.59 L352.87,265.56 L353.39,265.52 L353.91,265.49 L354.43,265.46 L354.95,265.43 L355.47,265.40 L355.98,265.36 L356.50,265.33 L357.02,265.30 L357.54,265.27 L358.06,265.24 L358.57,265.21 L359.09,265.17 L359.61,265.14 L360.13,265.11 L360.65,265.08 L361.17,265.05 L361.69,265.02 L362.20,264.99 L362.72,264.96 L363.24,264.93 L363.76,264.89 L364.28,264.86 L364.80,264.83 L365.31,264.80 L365.83,264.77 L366.35,264.74 L366.87,264.71 L367.39,264.68 L367.90,264.65 L368.42,264.62 L368.94,264.59 L369.46,264.56 L369.98,264.53 L370.50,264.50 L371.01,264.47 L371.53,264.44 L372.05,264.41 L372.57,264.38 L373.09,264.35 L373.61,264.32 L374.12,264.29 L374.64,264.26 L375.16,264.23 L375.68,264.20 L376.20,264.17 L376.72,264.14 L377.24,264.11 L377.75,264.09 L378.27,264.06 L378.79,264.03 L379.31,264.00 L379.83,263.97 L380.34,263.94 L380.86,263.91 L381.38,263.88 L381.90,263.85 L382.42,263.83 L382.94,263.80 L383.45,263.77 L383.97,263.74 L384.49,263.71 L385.01,263.68 L385.53,263.65 L386.05,263.63 L386.56,263.60 L387.08,263.57 L387.60,263.54 L388.12,263.51 L388.64,263.48 L389.16,263.46 L389.68,263.43 L390.19,263.40 L390.71,263.37 L391.23,263.35 L391.75,263.32 L392.27,263.29 L392.78,263.26 L393.30,263.23 L393.82,263.21 L394.34,263.18 L394.86,263.15 L395.38,263.12 L395.89,263.10 L396.41,263.07 L396.93,263.04 L397.45,263.02 L397.97,262.99 L398.49,262.96 L399.00,262.93 L399.52,262.91 L400.04,262.88 L400.56,262.85 L401.08,262.83 L401.60,262.80 L402.12,262.77 L402.63,262.75 L403.15,262.72 L403.67,262.69 L404.19,262.67 L404.71,262.64 L405.22,262.61 L405.74,262.59 L406.26,262.56 L406.78,262.53 L407.30,262.51 L407.82,262.48 L408.33,262.45 L408.85,262.43 L409.37,262.40 L409.89,262.38 L410.41,262.35 L410.93,262.32 L411.44,262.30 L411.96,262.27 L412.48,262.25 L413.00,262.22" fill="none" stroke="#00ff00" stroke-width="1.5" stroke-linejoin="round"/>
</g>
<rect x="60.80" y="24.00" width="352.20" height="358.80" fill="none" stroke="#000" stroke-width="1.5"/>
<path d="M81.27,382.80V377.80M81.27,24.00V29.00M102.00,382.80V373.40M102.00,24.00V33.40M122.73,382.80V377.80M122.73,24.00V29.00M143.47,382.80V377.80M143.47,24.00V29.00M164.20,382.80V377.80M164.20,24.00V29.00M184.93,382.80V377.80M184.93,24.00V29.00M205.67,382.80V373.40M205.67,24.00V33.40M226.40,382.80V377.80M226.40,24.00V29.00M247.13,382.80V377.80M247.13,24.00V29.00M267.87,382.80V377.80M267.87,24.00V29.00M288.60,382.80V377.80M288.60,24.00V29.00M309.33,382.80V373.40M309.33,24.00V33.40M330.07,382.80V377.80M330.07,24.00V29.00M350.80,382.80V377.80M350.80,24.00V29.00M371.53,382.80V377.80M371.53,24.00V29.00M392.27,382.80V377.80M392.27,24.00V29.00M60.80,375.62H70.20M413.00,375.62H403.60M60.80,361.56H65.80M413.00,361.56H408.00M60.80,347.49H65.80M413.00,347.49H408.00M60.80,333.43H65.80M413.00,333.43H408.00M60.80,319.36H65.80M413.00,319.36H408.00M60.80,305.30H70.20M413.00,305.30H403.60M60.80,291.23H65.80M413.00,291.23H408.00M60.80,277.17H65.80M413.00,277.17H408.00M60.80,263.10H65.80M413.00,263.10H408.00M60.80,249.04H65.80M413.00,249.04H408.00M60.80,234.97H70.20M413.00,234.97H403.60M60.80,220.91H65.80M413.00,220.91H408.00M60.80,206.84H65.80M413.00,206.84H408.00M60.80,192.78H65.80M413.00,192.78H408.00M60.80,178.71H65.80M413.00,178.71H408.00M60.80,164.65H70.20M413.00,164.65H403.60M60.80,150.58H65.80M413.00,150.58H408.00M60.80,136.52H65.80M413.00,136.52H408.00M60.80,122.45H65.80M413.00,122.45H408.00M60.80,108.39H65.80M413.00,108.39H408.00M60.80,94.32H70.20M413.00,94.32H403.60M60.80,80.26H65.80M413.00,80.26H408.00M60.80,66.19H65.80M413.00,66.19H408.00M60.80,52.13H65.80M413.00,52.13H408.00M60.80,38.06H65.80M413.00,38.06H408.00M60.80,24.00H70.20M413.00,24.00H403.60" stroke="#000" stroke-width="1.4" fill="none"/>
<text x="102.50" y="15.25" font-family="Liberation Serif" font-size="18.90" stroke="#000" stroke-width="0.3" textLength="118.37" lengthAdjust="spacingAndGlyphs">Logarithmic</text>
<text x="256.25" y="14.65" font-family="Liberation Serif" font-size="18.90" stroke="#000" stroke-width="0.3" textLength="46.13" lengthAdjust="spacingAndGlyphs">Tanh</text>
<text x="312.20" y="15.25" font-family="Liberation Serif" font-size="18.90" stroke="#000" stroke-width="0.3" textLength="59.03" lengthAdjust="spacingAndGlyphs">Spiral</text>
<text x="204.80" y="433.65" font-family="Liberation Serif" font-size="18.90" stroke="#000" stroke-width="0.3" textLength="65.55" lengthAdjust="spacingAndGlyphs">Radius</text>
<text x="97.80" y="400.35" font-family="Liberation Sans" font-size="14.31" stroke="#000" stroke-width="0.35" textLength="8.32" lengthAdjust="spacingAndGlyphs">0</text>
<text x="197.00" y="400.35" font-family="Liberation Sans" font-size="14.31" stroke="#000" stroke-width="0.35" textLength="16.96" lengthAdjust="spacingAndGlyphs">50</text>
<text x="296.85" y="400.30" font-family="Liberation Serif" font-size="14.66" stroke="#000" stroke-width="0.45" textLength="25.39" lengthAdjust="spacingAndGlyphs">100</text>
<text x="400.45" y="400.30" font-family="Liberation Serif" font-size="14.66" stroke="#000" stroke-width="0.45" textLength="25.82" lengthAdjust="spacingAndGlyphs">150</text>
<text x="43.80" y="380.45" font-family="Liberation Sans" font-size="13.97" stroke="#000" stroke-width="0.35" textLength="8.19" lengthAdjust="spacingAndGlyphs">0</text>
<text x="25.65" y="310.15" font-family="Liberation Sans" font-size="13.97" stroke="#000" stroke-width="0.35" textLength="27.03" lengthAdjust="spacingAndGlyphs">100</text>
<text x="26.15" y="239.85" font-family="Liberation Sans" font-size="13.97" stroke="#000" stroke-width="0.35" textLength="26.75" lengthAdjust="spacingAndGlyphs">200</text>
<text x="26.15" y="169.55" font-family="Liberation Sans" font-size="13.97" stroke="#000" stroke-width="0.35" textLength="26.47" lengthAdjust="spacingAndGlyphs">300</text>
<text x="26.40" y="99.25" font-family="Liberation Sans" font-size="13.97" stroke="#000" stroke-width="0.35" textLength="26.19" lengthAdjust="spacingAndGlyphs">400</text>
<text x="26.15" y="28.65" font-family="Liberation Sans" font-size="13.97" stroke="#000" stroke-width="0.35" textLength="26.47" lengthAdjust="spacingAndGlyphs">500</text>
<text x="77.80" y="236.20" font-family="Liberation Serif" font-size="15.41" stroke="#000" stroke-width="0.4" textLength="6.48" lengthAdjust="spacingAndGlyphs">r</text>
<text x="85.35" y="240.35" font-family="Liberation Serif" font-size="8.28" font-weight="bold" stroke="#000" stroke-width="0.5" textLength="10.60" lengthAdjust="spacingAndGlyphs">ws</text>
<text x="118.60" y="240.35" font-family="Liberation Sans" font-size="14.30" stroke="#000" stroke-width="0.3" textLength="8.87" lengthAdjust="spacingAndGlyphs">5</text>
<text x="166.00" y="240.10" font-family="Liberation Serif" font-size="15.01" fill="#00f" stroke="#00f" stroke-width="0.55" textLength="17.33" lengthAdjust="spacingAndGlyphs">40</text>
<text x="234.75" y="240.10" font-family="Liberation Serif" font-size="15.01" fill="#f00" stroke="#f00" stroke-width="0.45" textLength="25.70" lengthAdjust="spacingAndGlyphs">120</text>
<text x="339.85" y="240.10" font-family="Liberation Serif" font-size="15.01" fill="#0f0" stroke="#0f0" stroke-width="0.45" textLength="20.98" lengthAdjust="spacingAndGlyphs">0.1</text>
<text x="69.80" y="293.20" font-family="Liberation Serif" font-size="15.41" stroke="#000" stroke-width="0.4" textLength="6.30" lengthAdjust="spacingAndGlyphs">r</text>
<text x="76.80" y="296.65" font-family="Liberation Serif" font-size="7.89" font-weight="bold" stroke="#000" stroke-width="0.4" textLength="7.91" lengthAdjust="spacingAndGlyphs">in</text>
<text x="97.90" y="296.65" font-family="Liberation Sans" font-size="14.31" stroke="#000" stroke-width="0.3" textLength="8.30" lengthAdjust="spacingAndGlyphs">0</text>
<text x="134.50" y="296.00" font-family="Liberation Sans" font-size="14.00" fill="#00f" stroke="#00f" stroke-width="0.55" textLength="18.07" lengthAdjust="spacingAndGlyphs">20</text>
<text x="176.10" y="296.00" font-family="Liberation Sans" font-size="14.00" fill="#f00" stroke="#f00" stroke-width="0.55" textLength="17.97" lengthAdjust="spacingAndGlyphs">40</text>
<text x="217.50" y="296.00" font-family="Liberation Sans" font-size="14.00" fill="#0f0" stroke="#0f0" stroke-width="0.55" textLength="17.85" lengthAdjust="spacingAndGlyphs">60</text>
<text x="358.80" y="348.50" font-family="Liberation Sans" font-size="21.36" stroke="#000" stroke-width="0.2" textLength="6.54" lengthAdjust="spacingAndGlyphs">(</text>
<text x="366.85" y="347.75" font-family="Liberation Sans" font-size="17.94" font-style="italic" stroke="#000" stroke-width="0.2" textLength="10.12" lengthAdjust="spacingAndGlyphs">b</text>
<text x="380.60" y="348.50" font-family="Liberation Sans" font-size="21.36" stroke="#000" stroke-width="0.2" textLength="6.82" lengthAdjust="spacingAndGlyphs">)</text>
<g transform="translate(16.5,238.9) rotate(-90)">
<text x="-0.75" y="-0.25" font-family="Liberation Sans" font-size="18.69" font-style="italic" stroke="#000" stroke-width="0.3" textLength="10.36" lengthAdjust="spacingAndGlyphs">θ</text>
<text x="21.45" y="0.85" font-family="Liberation Serif" font-size="22.37" stroke="#000" stroke-width="0.3" textLength="6.35" lengthAdjust="spacingAndGlyphs">[</text>
<text x="29.50" y="0.30" font-family="Liberation Serif" font-size="19.56" stroke="#000" stroke-width="0.3" textLength="30.03" lengthAdjust="spacingAndGlyphs">deg</text>
<text x="64.40" y="0.85" font-family="Liberation Serif" font-size="22.37" stroke="#000" stroke-width="0.3" textLength="6.55" lengthAdjust="spacingAndGlyphs">]</text>
</g>
<!-- title dash and equals -->
<path d="M233.6,9.9H243.9" stroke="#000" stroke-width="1.3" fill="none"/>
<path d="M96.8,230.9H105M96.8,234.1H105M86.7,287.1H94.5M86.7,290.2H94.5" stroke="#000" stroke-width="1.15" fill="none"/>
</svg>
</body></html>
